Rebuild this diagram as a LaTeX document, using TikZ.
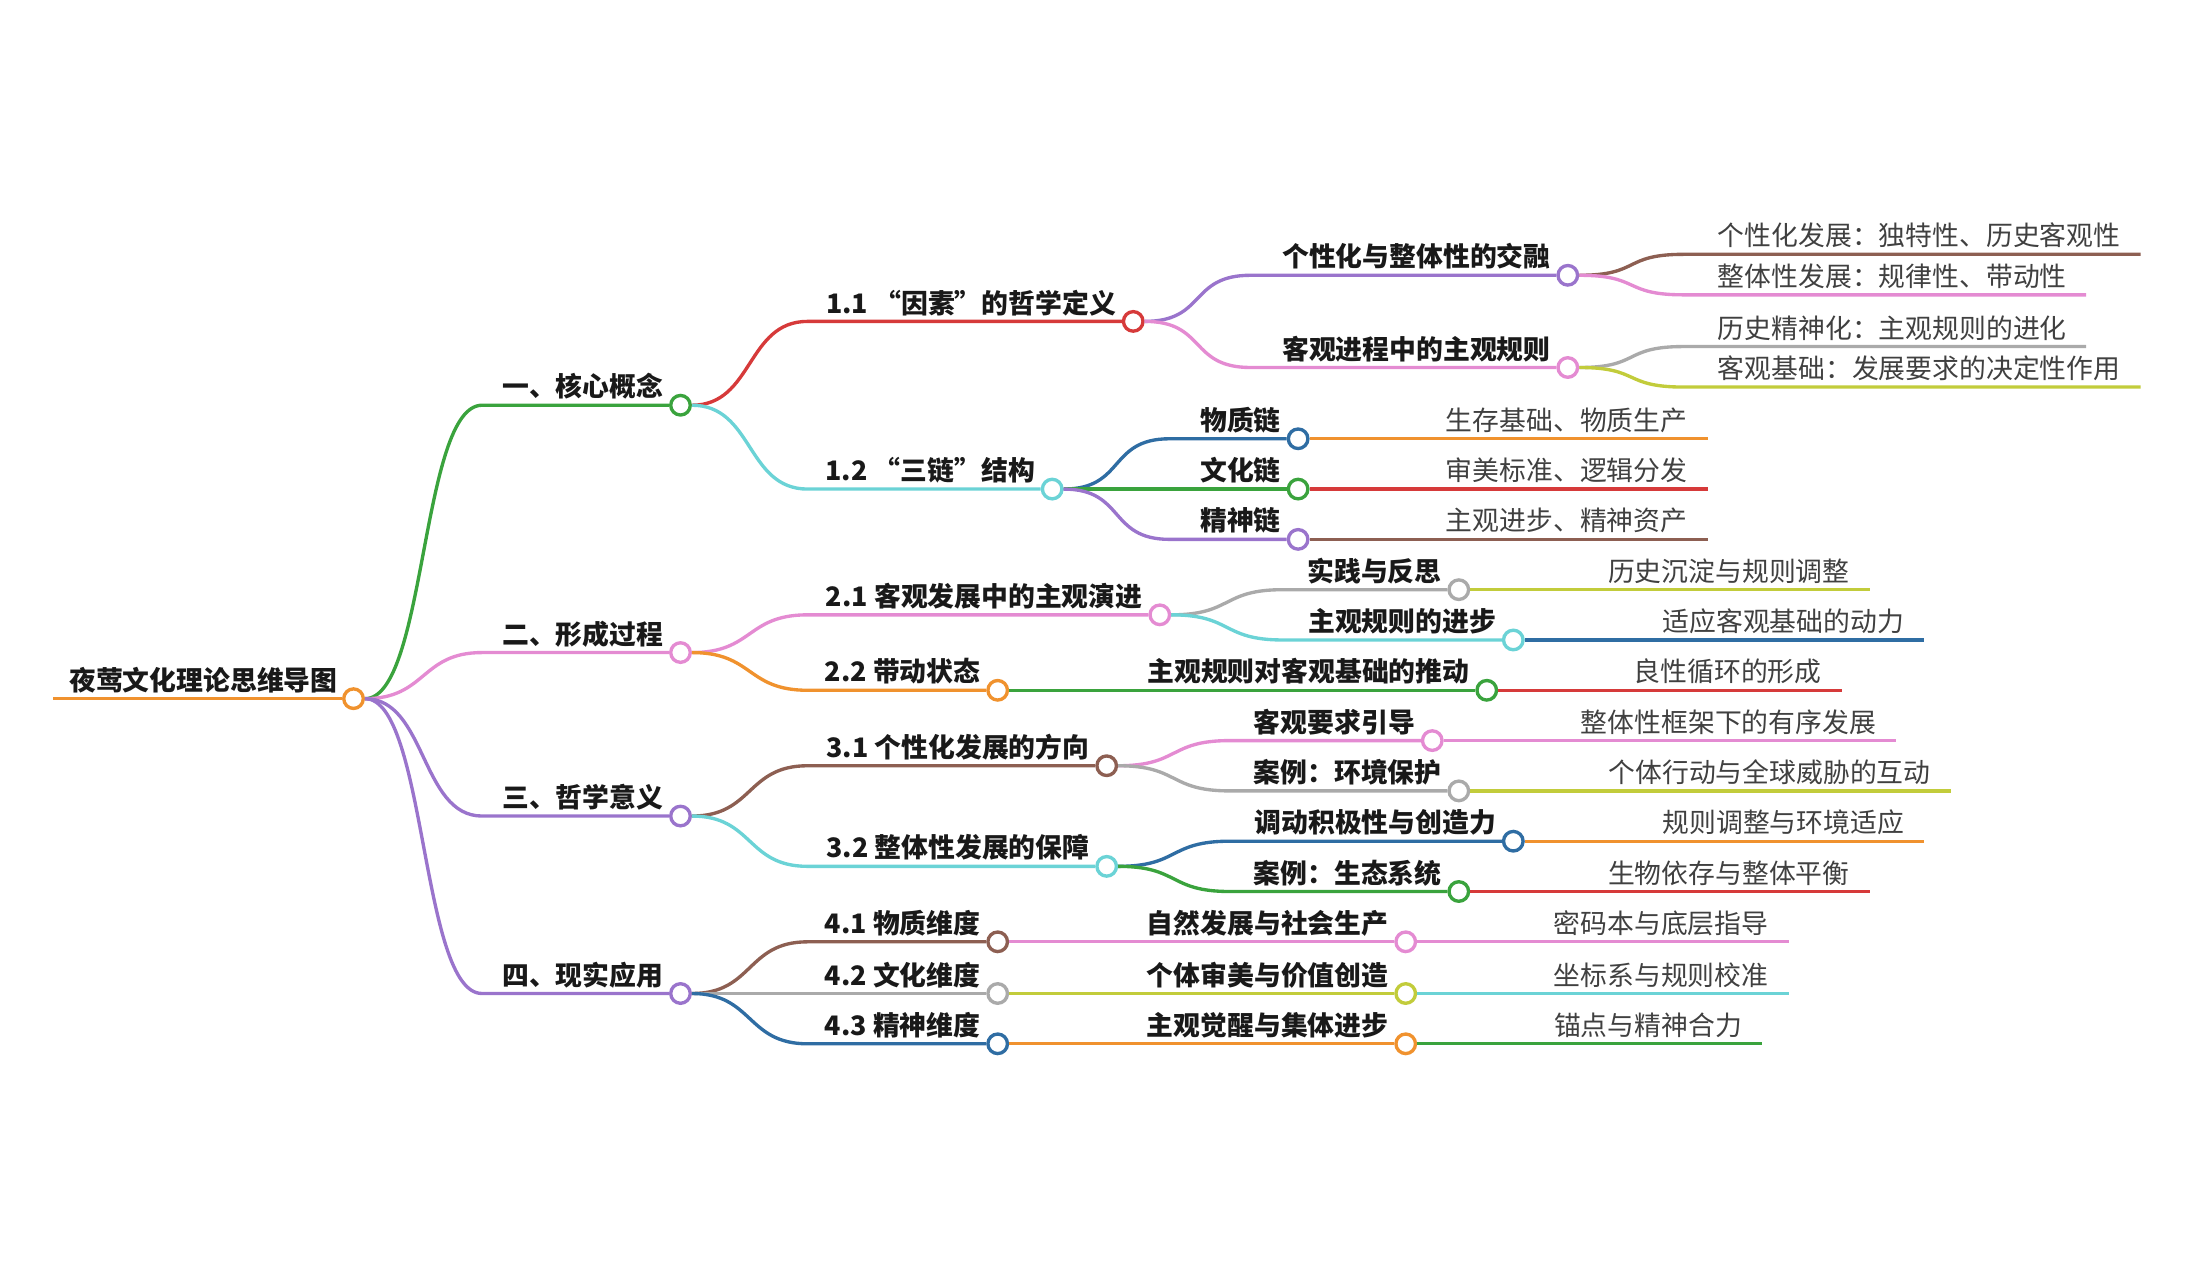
\documentclass[tikz,border=0pt]{standalone}
\usepackage{fontspec}
\setmainfont{Noto Sans CJK SC}
\definecolor{mmorange}{HTML}{F0922E}
\definecolor{mmgreen}{HTML}{3AA33D}
\definecolor{mmred}{HTML}{D63A3A}
\definecolor{mmcyan}{HTML}{6BD3D6}
\definecolor{mmpink}{HTML}{E48BD2}
\definecolor{mmpurple}{HTML}{9A74CC}
\definecolor{mmbrown}{HTML}{8D5F52}
\definecolor{mmgray}{HTML}{AAAAAA}
\definecolor{mmlime}{HTML}{C2CC3B}
\definecolor{mmblue}{HTML}{2F6DA3}
\tikzset{
  dot/.style={circle, fill=white, line width=1.2pt, minimum size=7pt, inner sep=0},
  link/.style={line width=1.2pt, to path={.. controls ([xshift=22pt]\tikztostart) and ([xshift=-22pt]\tikztotarget) .. (\tikztotarget)}},
  lbl/.style={font=\fontsize{9.6}{11}\selectfont\bfseries, text=black!90, inner sep=0},
  leaf/.style={font=\fontsize{9.6}{11}\selectfont, text=black!75, inner sep=0}
}
\begin{document}
\begin{tikzpicture}[x=0.5pt, y=-0.5pt]
\useasboundingbox (0,0) rectangle (1568,916);
\node[dot, draw=mmorange] (r) at (253,500) {};
\coordinate (rs) at (38,500);
\draw[mmorange, line width=1.2pt] (rs) -- (r.west);
\node[lbl, anchor=base east] (rt) at ([xshift=-5.5pt, yshift=3pt]r) {夜莺文化理论思维导图};
\foreach \p/\n/\x/\y/\s/\col/\t in {
  r/c1/487/290/345/mmgreen/{一、核心概念},
  r/c2/487/467/345/mmpink/{二、形成过程},
  r/c3/487/584/345/mmpurple/{三、哲学意义},
  r/c4/487/711/345/mmpurple/{四、现实应用},
  c1/c11/811/230/578/mmred/{1.1 “因素”的哲学定义},
  c1/c12/753/350/578/mmcyan/{1.2 “三链”结构},
  c2/c21/830/440/578/mmpink/{2.1 客观发展中的主观演进},
  c2/c22/714/494/578/mmorange/{2.2 带动状态},
  c3/c31/792/548/578/mmbrown/{3.1 个性化发展的方向},
  c3/c32/792/620/578/mmcyan/{3.2 整体性发展的保障},
  c4/c41/714/674/578/mmbrown/{4.1 物质维度},
  c4/c42/714/711/578/mmgray/{4.2 文化维度},
  c4/c43/714/747/578/mmblue/{4.3 精神维度},
  c11/c111/1122/197/895/mmpurple/{个性化与整体性的交融},
  c11/c112/1122/263/895/mmpink/{客观进程中的主观规则},
  c12/c121/929/314/837/mmblue/{物质链},
  c12/c122/929/350/837/mmgreen/{文化链},
  c12/c123/929/386/837/mmpurple/{精神链},
  c21/c211/1044/422/918/mmgray/{实践与反思},
  c21/c212/1083/458/918/mmcyan/{主观规则的进步},
  c22/c221/1064/494/800/mmgreen/{主观规则对客观基础的推动},
  c31/c311/1025/530/880/mmpink/{客观要求引导},
  c31/c312/1044/566/880/mmgray/{案例：环境保护},
  c32/c321/1083/602/880/mmblue/{调动积极性与创造力},
  c32/c322/1044/638/880/mmgreen/{案例：生态系统},
  c41/c411/1006/674/800/mmpink/{自然发展与社会生产},
  c42/c421/1006/711/800/mmlime/{个体审美与价值创造},
  c43/c431/1006/747/800/mmorange/{主观觉醒与集体进步}}
{
  \node[dot, draw=\col] (\n) at (\x,\y) {};
  \coordinate (\n s) at (\s,\y);
  \draw[\col, link] (\p.east) to (\n s) -- (\n.west);
  \node[lbl, anchor=base east] (\n t) at ([xshift=-6pt, yshift=3pt]\n) {\t};
}
\foreach \p/\n/\y/\e/\col/\t in {
  c111/l1/182/1532/mmbrown/{个性化发展：独特性、历史客观性},
  c111/l2/211/1493/mmpink/{整体性发展：规律性、带动性},
  c112/l3/248/1493/mmgray/{历史精神化：主观规则的进化},
  c112/l4/277/1532/mmlime/{客观基础：发展要求的决定性作用}}
{
  \coordinate (\n s) at (1205,\y);
  \coordinate (\n e) at (\e,\y);
  \draw[\col, link] (\p.east) to (\n s) -- (\n e);
  \node[leaf, anchor=base west] (\n t) at ([yshift=3pt]1229,\y) {\t};
}
\foreach \p/\n/\e/\col/\t in {
  c121/l5/1222/mmorange/{生存基础、物质生产},
  c122/l6/1222/mmred/{审美标准、逻辑分发},
  c123/l7/1222/mmbrown/{主观进步、精神资产},
  c211/l8/1338/mmlime/{历史沉淀与规则调整},
  c212/l9/1377/mmblue/{适应客观基础的动力},
  c221/l10/1318/mmred/{良性循环的形成},
  c311/l11/1357/mmpink/{整体性框架下的有序发展},
  c312/l12/1396/mmlime/{个体行动与全球威胁的互动},
  c321/l13/1377/mmorange/{规则调整与环境适应},
  c322/l14/1338/mmred/{生物依存与整体平衡},
  c411/l15/1280/mmpink/{密码本与底层指导},
  c421/l16/1280/mmcyan/{坐标系与规则校准},
  c431/l17/1261/mmgreen/{锚点与精神合力}}
{
  \coordinate (\n e) at (\p -| \e,0);
  \draw[\col, line width=1.2pt] (\p.east) -- (\n e);
  \node[leaf, anchor=base east] (\n t) at ([xshift=-7pt, yshift=3pt]\n e) {\t};
}
\end{tikzpicture}
\end{document}
